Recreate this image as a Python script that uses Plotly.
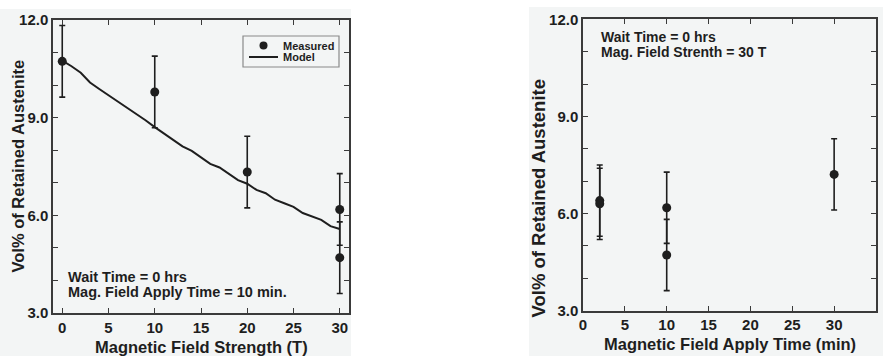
import plotly.graph_objects as go

# ---------------- data ----------------
# Left panel: retained austenite vs magnetic field strength
field_T = [0, 10, 20, 30, 30]
measured_left = [10.73, 9.79, 7.33, 6.18, 4.70]
err_left = [1.1, 1.1, 1.1, 1.1, 1.1]

model_T = list(range(0, 31))
model_vals = [10.75, 10.58, 10.38, 10.08, 9.88, 9.69, 9.50, 9.31, 9.12, 8.92,
              8.71, 8.52, 8.32, 8.12, 7.98, 7.78, 7.58, 7.47, 7.28, 7.08,
              6.97, 6.78, 6.68, 6.48, 6.37, 6.26, 6.07, 5.97, 5.86, 5.67, 5.58]

# Right panel: retained austenite vs apply time
apply_min = [2, 2, 10, 10, 30]
measured_right = [6.40, 6.30, 6.18, 4.72, 7.21]
err_right = [1.1, 1.1, 1.1, 1.1, 1.1]

left_xticks = [0, 5, 10, 15, 20, 25, 30]
right_xticks = [0, 5, 10, 15, 20, 25, 30, 35]
yticks = [3, 6, 9, 12]

# ---------------- style ----------------
W, H = 883, 356
BG = "#f3f5f5"
INK = "#1e1e1e"
AX = "#3a3a3a"
FONT = "Liberation Sans"


def px(x):
    return x / W


def py(y):
    return 1 - y / H


fig = go.Figure()

fig.add_trace(go.Scatter(
    x=model_T, y=model_vals, mode="lines", name="Model",
    line=dict(color=INK, width=2), xaxis="x", yaxis="y", showlegend=False))
fig.add_trace(go.Scatter(
    x=field_T, y=measured_left, mode="markers", name="Measured",
    marker=dict(color=INK, size=9),
    error_y=dict(type="data", array=err_left, visible=True, color=INK,
                 thickness=1.6, width=3),
    xaxis="x", yaxis="y", showlegend=False))
fig.add_trace(go.Scatter(
    x=apply_min, y=measured_right, mode="markers", name="Measured",
    marker=dict(color=INK, size=9),
    error_y=dict(type="data", array=err_right, visible=True, color=INK,
                 thickness=1.6, width=3),
    xaxis="x2", yaxis="y2", showlegend=False))

tickfont = dict(family=FONT, size=15, color=INK, weight="bold")

common_axis = dict(showline=True, linecolor=AX, linewidth=1.5, mirror="ticks",
                   ticks="inside", ticklen=5, tickcolor=AX, tickwidth=1.2,
                   showgrid=False, zeroline=False, tickfont=tickfont,
                   automargin=False, fixedrange=True)

fig.update_layout(
    width=W, height=H,
    margin=dict(l=0, r=0, t=0, b=0),
    paper_bgcolor="white",
    plot_bgcolor=BG,
    xaxis=dict(domain=[px(53), px(349)], range=[-1, 31], tickvals=left_xticks,
               anchor="y", **common_axis),
    yaxis=dict(domain=[py(313), py(20)], range=[3, 12], tickvals=yticks,
               tickformat=".1f", anchor="x",
               minor=dict(dtick=1, tick0=3, ticks="inside", ticklen=5,
                          tickcolor=AX, tickwidth=1.2),
               **common_axis),
    xaxis2=dict(domain=[px(583), px(876)], range=[0, 35], tickvals=right_xticks,
                anchor="y2", **common_axis),
    yaxis2=dict(domain=[py(310.7), py(19.3)], range=[3, 12], tickvals=yticks,
                tickformat=".1f", anchor="x2",
                minor=dict(dtick=1, tick0=3, ticks="inside", ticklen=5,
                           tickcolor=AX, tickwidth=1.2),
                **common_axis),
    showlegend=False,
)

shapes = [
    # gray page backgrounds of the two source figures
    dict(type="rect", xref="paper", yref="paper", x0=0, x1=px(351), y0=0, y1=py(9),
         fillcolor=BG, line=dict(width=0), layer="below"),
    dict(type="rect", xref="paper", yref="paper", x0=px(529), x1=1, y0=0, y1=py(7),
         fillcolor=BG, line=dict(width=0), layer="below"),
    # legend box
    dict(type="rect", xref="paper", yref="paper", x0=px(243), x1=px(339),
         y0=py(67), y1=py(36), fillcolor=BG, line=dict(color="#8a8a8a", width=1.2)),
    # legend line sample
    dict(type="line", xref="paper", yref="paper", x0=px(249), x1=px(278),
         y0=py(57), y1=py(57), line=dict(color=INK, width=2)),
    # legend marker sample
    dict(type="circle", xref="paper", yref="paper", x0=px(259.5), x1=px(267.5),
         y0=py(49.5), y1=py(41.5), fillcolor=INK, line=dict(color=INK, width=0)),
]
fig.update_layout(shapes=shapes)

ann_font = dict(family=FONT, size=14.5, color=INK, weight="bold")
ann_font_r = dict(family=FONT, size=14, color=INK, weight="bold")
title_font = dict(family=FONT, size=16.5, color=INK, weight="bold")
title_font_ry = dict(family=FONT, size=18.5, color=INK, weight="bold")
leg_font = dict(family=FONT, size=11, color=INK, weight="bold")


def ann(text, x, y, font, xanchor="left", angle=0):
    return dict(text=text, x=px(x), y=py(y), xref="paper", yref="paper",
                xanchor=xanchor, yanchor="middle", showarrow=False,
                font=font, textangle=angle)


annotations = [
    ann("Measured", 281, 45.5, leg_font),
    ann("Model", 281, 57, leg_font),
    ann("Wait Time = 0 hrs", 66, 277, ann_font),
    ann("Mag. Field Apply Time = 10 min.", 66, 292, ann_font),
    ann("Wait Time = 0 hrs", 599, 37, ann_font_r),
    ann("Mag. Field Strenth = 30 T", 599, 52, ann_font_r),
    ann("Magnetic Field Strength (T)", 201, 347, title_font, xanchor="center"),
    ann("Vol% of Retained Austenite", 17, 166.5, title_font, xanchor="center", angle=-90),
    ann("Magnetic Field Apply Time (min)", 730, 344, title_font, xanchor="center"),
    ann("Vol% of Retained Austenite", 538, 198.5, title_font_ry, xanchor="center", angle=-90),
]
fig.update_layout(annotations=annotations)

fig.write_html("out.html")
